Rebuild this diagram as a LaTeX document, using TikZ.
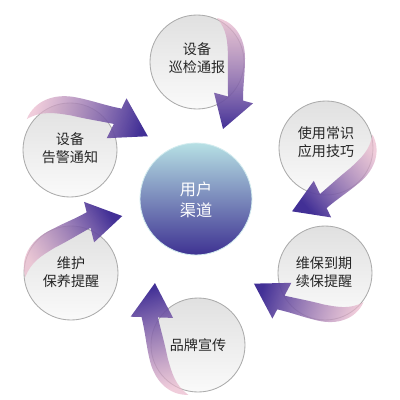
\documentclass[tikz,border=0pt]{standalone}
\usepackage{fontspec}
\newfontfamily\cjk{Noto Sans CJK SC}
\usetikzlibrary{positioning,fadings}
\definecolor{ringedge}{HTML}{ABABAB}
\definecolor{hubtop}{RGB}{182,224,228}
\definecolor{hubmid}{RGB}{140,162,202}
\definecolor{hubbot}{RGB}{62,50,146}
\definecolor{arrtail}{RGB}{234,184,204}
\definecolor{arrmid}{RGB}{188,108,174}
\definecolor{arrhead}{RGB}{66,48,150}
\tikzfading[name=tailfade, top color=transparent!30, bottom color=transparent!0]
\tikzset{
  ring/.style={circle, draw=ringedge, line width=0.6pt, minimum size=23.5mm, inner sep=0pt,
               top color=black!12, bottom color=black!2},
  hub/.style={circle, draw=hubtop!60!white, line width=0.6pt, minimum size=28mm, inner sep=0pt,
              top color=hubtop, middle color=hubmid, bottom color=hubbot},
  ringtext/.style={align=center, text=black!85, font=\cjk\fontsize{10}{13}\selectfont},
  hubtext/.style={align=center, text=white, font=\cjk\fontsize{11.5}{15}\selectfont},
  arrfill/.style={top color=arrtail, middle color=arrmid, bottom color=arrhead, draw=none},
  bendarrow/.pic={
    \path[arrfill, shading angle=#1, path fading=tailfade, fading angle=#1]
      (20,44) to[out=-12,in=90] (48,4) to[out=-90,in=90] (46,-38.6) -- (56,-41.3) -- (26,-67)
      -- (17,-30.7) -- (31,-34.5) to[out=90,in=-92] (31,5) to[out=92,in=-50] (20,44) -- cycle;
  },
}

\begin{document}
\begin{tikzpicture}[x=0.25mm, y=0.25mm]
  \useasboundingbox (0,0) rectangle (400,-400);
  % circles
  \node[hub] (hub) at (196,-199) {};
  \node[ring] (top) at (197,-62) {};
  \node[ring] (ur) at (326,-148) {};
  \node[ring] (lr) at (325,-273) {};
  \node[ring] (bot) at (198,-345) {};
  \node[ring] (ll) at (71,-273) {};
  \node[ring] (ul) at (70,-150) {};
  % arrows round the circles
  \pic at (top) {bendarrow=0};
  \pic[rotate=-49.4] at (ur) {bendarrow=-49.4};
  \pic[rotate=-102.7] at (lr) {bendarrow=-102.7};
  \pic[rotate=193.6, scale=1.05] at (bot) {bendarrow=193.6};
  \pic[rotate=119.1, scale=1.03] at ([xshift=1mm]ll) {bendarrow=119.1};
  \pic[rotate=78.8, scale=1.1] at (ul) {bendarrow=78.8};
  % texts
  \node[hubtext] (hublbl) at (196,-200) {用户\\渠道};
  \node[ringtext] (toplbl) at (197,-58) {设备\\巡检通报};
  \node[ringtext] (urlbl) at (326,-142) {使用常识\\应用技巧};
  \node[ringtext] (lrlbl) at (324,-272) {维保到期\\续保提醒};
  \node[ringtext] (botlbl) at (198,-345) {品牌宣传};
  \node[ringtext] (lllbl) at (71,-272) {维护\\保养提醒};
  \node[ringtext] (ullbl) at (70,-148) {设备\\告警通知};
\end{tikzpicture}
\end{document}
